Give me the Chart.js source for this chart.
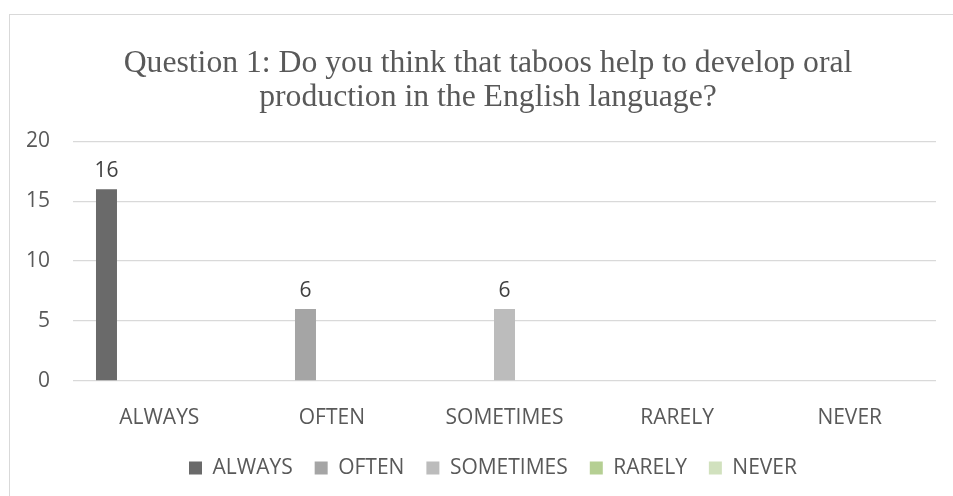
<!DOCTYPE html>
<html>
<head>
<meta charset="utf-8">
<title>Question 1</title>
<script src="https://cdn.jsdelivr.net/npm/chart.js@4.4.1/dist/chart.umd.min.js"></script>
<style>
  html, body { margin: 0; padding: 0; background: #fff; overflow: hidden; }
  #frame {
    position: absolute;
    left: 9px;
    top: 14px;
    width: 956px;
    height: 490px;
    border: 1px solid #d9d9d9;
    background: #fff;
  }
  #frame canvas { display: block; }
</style>
</head>
<body>
<div id="frame"><canvas id="q1Chart" width="956" height="490"></canvas></div>
<script>
/* ---------- data ---------- */

const categories = ["ALWAYS", "OFTEN", "SOMETIMES", "RARELY", "NEVER"];

// one series per answer, each only filled at its own category
const alwaysValues    = [16, null, null, null, null];
const oftenValues     = [null, 6, null, null, null];
const sometimesValues = [null, null, 6, null, null];
const rarelyValues    = [null, null, null, null, null];
const neverValues     = [null, null, null, null, null];

const yTicks = [0, 5, 10, 15, 20];

const titleLines = [
  "Question 1: Do you think that taboos help to develop oral",
  "production in the English language?"
];

/* ---------- styling ---------- */

const SANS = "'Open Sans', 'Liberation Sans', sans-serif";
const SERIF = "'Liberation Serif', 'DejaVu Serif', serif";
const GRID = "#d9d9d9";
const TEXT = "#595959";

/* ---------- value labels above bars ---------- */

const valueLabels = {
  id: "valueLabels",
  afterDatasetsDraw(chart) {
    const ctx = chart.ctx;
    ctx.save();
    ctx.font = "21px " + SANS;
    ctx.fillStyle = "#404040";
    ctx.textAlign = "center";
    ctx.textBaseline = "alphabetic";
    chart.data.datasets.forEach((ds, i) => {
      const meta = chart.getDatasetMeta(i);
      meta.data.forEach((bar, j) => {
        const v = ds.data[j];
        if (v === null || v === undefined) return;
        ctx.fillText(String(v), bar.x, bar.y - 12);
      });
    });
    ctx.restore();
  }
};

// title and legend are centred on the whole frame, not on the padded area
const recentre = {
  id: "recentre",
  afterLayout(chart) {
    if (chart.titleBlock) {
      chart.titleBlock.left += 15;
      chart.titleBlock.right += 15;
    }
    if (chart.legend) {
      chart.legend.left += 20;
      chart.legend.right += 20;
    }
  }
};

/* ---------- chart ---------- */

function series(label, data, color) {
  return {
    label: label,
    data: data,
    backgroundColor: color,
    borderWidth: 0,
    categoryPercentage: 0.765,
    barPercentage: 0.795
  };
}

new Chart(document.getElementById("q1Chart"), {
  type: "bar",
  data: {
    labels: categories,
    datasets: [
      series("ALWAYS", alwaysValues, "#6a6a6a"),
      series("OFTEN", oftenValues, "#a5a5a5"),
      series("SOMETIMES", sometimesValues, "#bcbcbc"),
      series("RARELY", rarelyValues, "#b5cf93"),
      series("NEVER", neverValues, "#d1e1be")
    ]
  },
  options: {
    responsive: false,
    animation: false,
    layout: { padding: { left: 0, right: 30, top: 0, bottom: 16.6 } },
    plugins: {
      tooltip: { enabled: false },
      title: {
        display: true,
        text: titleLines,
        color: TEXT,
        font: { family: SERIF, size: 31.7, weight: "normal", lineHeight: 1.06 },
        padding: { top: 32, bottom: 27 }
      },
      legend: {
        position: "bottom",
        labels: {
          color: TEXT,
          font: { family: SANS, size: 21 },
          boxWidth: 13,
          boxHeight: 13,
          padding: 22
        }
      }
    },
    scales: {
      x: {
        grid: { display: false },
        border: { display: false },
        ticks: {
          color: TEXT,
          font: { family: SANS, size: 21 },
          padding: 16.5,
          maxRotation: 0
        },
        afterFit(scale) { scale.height = 54.4; }
      },
      y: {
        min: 0,
        max: 20,
        grid: { color: GRID, lineWidth: 1.3, drawTicks: false },
        border: { display: false },
        ticks: {
          color: TEXT,
          font: { family: SANS, size: 21 },
          padding: 23,
          stepSize: 5
        },
        afterBuildTicks(scale) {
          scale.ticks = yTicks.map(v => ({ value: v }));
        },
        afterFit(scale) { scale.width = 63; }
      }
    }
  },
  plugins: [valueLabels, recentre]
});
</script>
</body>
</html>
